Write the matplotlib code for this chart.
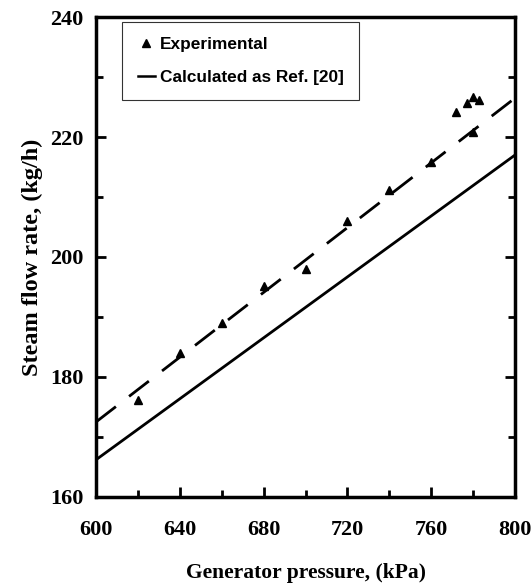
import matplotlib
matplotlib.use("Agg")
import matplotlib.pyplot as plt
import numpy as np
from matplotlib.lines import Line2D
from matplotlib.ticker import MultipleLocator

# Experimental steam flow measurements
pressure_exp = [620, 640, 660, 680, 700, 720, 740, 760, 780, 772, 777, 780, 783]
flow_exp = [176.2, 184.0, 189.0, 195.2, 198.0, 206.0, 211.2, 215.8, 220.8, 224.2, 225.6, 226.6, 226.2]

# Fitted trend through the experimental data (dashed)
pressure_fit = [600, 800]
flow_fit = [172.5, 226.5]

# Calculated as Ref. [20] (solid)
pressure_calc = [600, 800]
flow_calc = [166.2, 217.0]

x_ticks = [600, 640, 680, 720, 760, 800]
y_ticks = [160, 180, 200, 220, 240]

serif = "Liberation Serif"
sans = "Liberation Sans"

fig = plt.figure(figsize=(5.31, 5.88), dpi=100)
ax = fig.add_axes([0.181, 0.155, 0.789, 0.816])

ax.plot(pressure_calc, flow_calc, color="black", lw=2.0, solid_capstyle="butt")
ax.plot(pressure_fit, flow_fit, color="black", lw=2.0, dashes=(9, 6))
ax.plot(pressure_exp, flow_exp, linestyle="none", marker="^", color="black",
        markersize=6)

ax.set_xlim(600, 800)
ax.set_ylim(160, 240)
ax.set_xticks(x_ticks)
ax.set_yticks(y_ticks)
ax.xaxis.set_minor_locator(MultipleLocator(20))
ax.yaxis.set_minor_locator(MultipleLocator(10))
ax.tick_params(which="both", direction="in", top=False, right=True, width=2)
ax.tick_params(which="major", length=7)
ax.tick_params(which="minor", length=5)
ax.tick_params(axis="x", pad=17)
ax.tick_params(axis="y", pad=9)

for lbl in ax.get_xticklabels() + ax.get_yticklabels():
    lbl.set_fontfamily(serif)
    lbl.set_fontweight("bold")
    lbl.set_fontsize(16)

for sp in ax.spines.values():
    sp.set_linewidth(2.5)

ax.set_xlabel("Generator pressure, (kPa)", fontfamily=serif, fontweight="bold",
              fontsize=15.5, labelpad=16)
ax.set_ylabel("Steam flow rate, (kg/h)", fontfamily=serif, fontweight="bold",
              fontsize=17.5, labelpad=5)

handles = [
    Line2D([], [], linestyle="none", marker="^", color="black", markersize=5.5),
    Line2D([], [], color="black", lw=1.8),
]
leg = ax.legend(handles, ["Experimental", "Calculated as Ref. [20]"],
                loc="upper left", bbox_to_anchor=(0.062, 0.99),
                prop={"family": sans, "weight": "bold", "size": 12.4},
                frameon=True, fancybox=False, edgecolor="black",
                handlelength=1.0, handletextpad=0.3, borderpad=0.9,
                labelspacing=1.0, borderaxespad=0)
leg.get_frame().set_linewidth(0.8)

fig.savefig("out.png", dpi=100)
